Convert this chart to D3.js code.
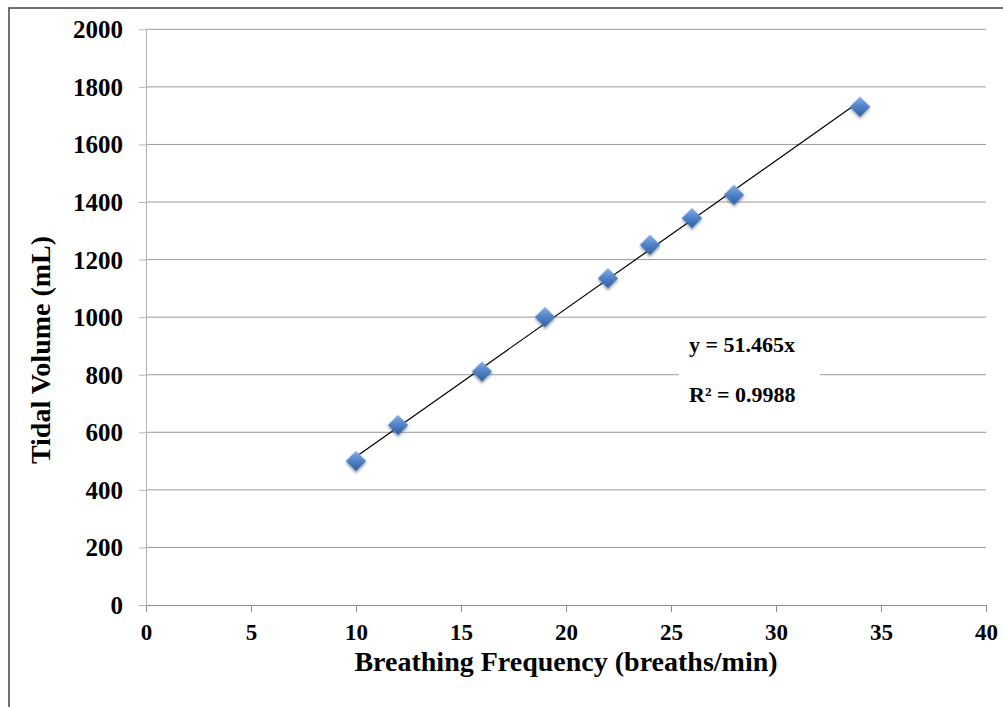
<!DOCTYPE html>
<html>
<head>
<meta charset="utf-8">
<script src="https://cdn.jsdelivr.net/npm/d3@7"></script>
<style>
  body { margin: 0; background: #fff; }
  svg { display: block; }
</style>
</head>
<body>
<svg id="chart" width="1003" height="707"></svg>
<script>
// breathing frequency (breaths/min) vs tidal volume (mL)
const frequency = [10, 12, 16, 19, 22, 24, 26, 28, 34];
const tidalVolume = [500, 625, 811, 1000, 1135, 1251, 1344, 1425, 1731];
const xTicks = [0, 5, 10, 15, 20, 25, 30, 35, 40];
const yTicks = [0, 200, 400, 600, 800, 1000, 1200, 1400, 1600, 1800, 2000];
const trendSlope = 51.465;
const trendLabels = ["y = 51.465x", "R² = 0.9988"];

const fontFamily = '"Liberation Serif", "Times New Roman", serif';

const svg = d3.select("#chart")
    .attr("font-family", fontFamily)
    .attr("font-weight", "bold");
const margin = { top: 29.3, right: 17, bottom: 102, left: 146 };
const width = +svg.attr("width");
const height = +svg.attr("height");
const innerWidth = width - margin.left - margin.right;
const innerHeight = height - margin.top - margin.bottom;

// outer chart frame (runs off the picture on the right and bottom)
svg.append("path")
    .attr("d", `M9,${height}V8H${width}`)
    .attr("fill", "none")
    .attr("stroke", "#444")
    .attr("stroke-width", 1.5);

const defs = svg.append("defs");
const grad = defs.append("linearGradient")
    .attr("id", "markerFill")
    .attr("x1", "0%").attr("y1", "0%")
    .attr("x2", "100%").attr("y2", "100%");
grad.append("stop").attr("offset", "0%").attr("stop-color", "#86b0e6");
grad.append("stop").attr("offset", "50%").attr("stop-color", "#4f81c7");
grad.append("stop").attr("offset", "100%").attr("stop-color", "#2f5f9e");

const shadow = defs.append("filter").attr("id", "shadow")
    .attr("x", "-50%").attr("y", "-50%").attr("width", "200%").attr("height", "200%");
shadow.append("feDropShadow")
    .attr("dx", 1.5).attr("dy", 1.5).attr("stdDeviation", 1.2)
    .attr("flood-color", "#000").attr("flood-opacity", 0.35);

const xScale = d3.scaleLinear().domain([0, 40]).range([0, innerWidth]);
const yScale = d3.scaleLinear().domain([0, 2000]).range([innerHeight, 0]);

const g = svg.append("g")
    .attr("transform", `translate(${margin.left},${margin.top})`);

// horizontal gridlines
g.append("g")
    .attr("class", "grid")
    .selectAll("line")
    .data(yTicks.filter(d => d > 0))
    .enter().append("line")
    .attr("x1", 0)
    .attr("x2", innerWidth)
    .attr("y1", d => yScale(d))
    .attr("y2", d => yScale(d))
    .attr("stroke", "#9a9a9a")
    .attr("stroke-width", 1);

const xAxis = d3.axisBottom(xScale).tickValues(xTicks).tickFormat(d3.format("d"))
    .tickSize(7).tickSizeOuter(0).tickPadding(8);
const yAxis = d3.axisLeft(yScale).tickValues(yTicks).tickFormat(d3.format("d"))
    .tickSize(7).tickSizeOuter(0).tickPadding(16);

const gx = g.append("g")
    .attr("transform", `translate(0,${innerHeight})`)
    .call(xAxis)
    .attr("font-family", fontFamily)
    .attr("font-size", 23);
gx.select(".domain").attr("stroke", "#8c8c8c");
gx.selectAll(".tick line").attr("stroke", "#8c8c8c");
gx.selectAll("text").attr("fill", "#000").attr("dy", "0.85em");

const gy = g.append("g")
    .call(yAxis)
    .attr("font-family", fontFamily)
    .attr("font-size", 25);
gy.select(".domain").attr("stroke", "#b5b5b5");
gy.selectAll(".tick line").attr("stroke", "#b5b5b5");
gy.selectAll("text").attr("fill", "#000").attr("dy", "0.34em");

// linear trend line through the origin, drawn over the data range
const trendX = d3.extent(frequency);
g.append("line")
    .attr("x1", xScale(trendX[0]))
    .attr("y1", yScale(trendSlope * trendX[0]))
    .attr("x2", xScale(trendX[1]))
    .attr("y2", yScale(trendSlope * trendX[1]))
    .attr("stroke", "#000")
    .attr("stroke-width", 1.2);

// diamond markers
const diamond = d3.symbol().type(d3.symbolSquare).size(210);
g.selectAll(".point")
    .data(frequency.map((f, i) => ({ f, v: tidalVolume[i] })))
    .enter().append("path")
    .attr("class", "point")
    .attr("d", diamond)
    .attr("transform", d => `translate(${xScale(d.f)},${yScale(d.v)}) rotate(45)`)
    .attr("fill", "url(#markerFill)")
    .attr("filter", "url(#shadow)");

// trendline equation label on a white box
const label = svg.append("g")
    .attr("transform", "translate(689,322)");
label.append("rect")
    .attr("x", -10)
    .attr("y", 0)
    .attr("width", 141)
    .attr("height", 95)
    .attr("fill", "#fff");
label.selectAll("text")
    .data(trendLabels)
    .enter().append("text")
    .attr("x", 0)
    .attr("y", (d, i) => 30 + i * 50)
    .attr("font-size", 22)
    .text(d => d);

// axis titles
svg.append("text")
    .attr("x", margin.left + innerWidth / 2)
    .attr("y", 671)
    .attr("text-anchor", "middle")
    .attr("font-size", 28)
    .text("Breathing Frequency (breaths/min)");

svg.append("text")
    .attr("transform", "translate(50,350) rotate(-90)")
    .attr("text-anchor", "middle")
    .attr("font-size", 28)
    .text("Tidal Volume (mL)");
</script>
</body>
</html>
